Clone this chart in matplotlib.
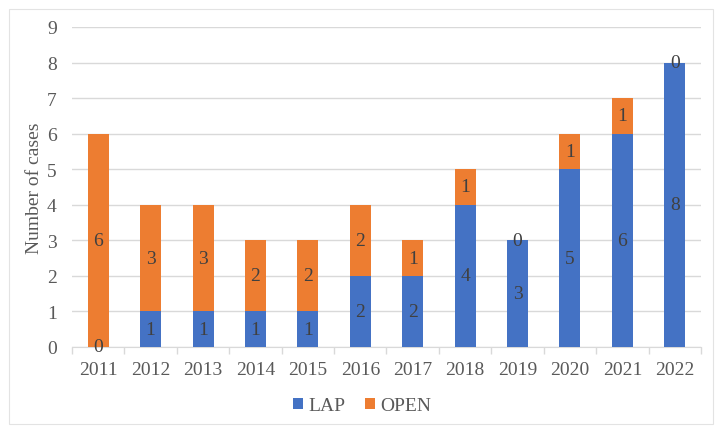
import matplotlib.pyplot as plt
import numpy as np
from matplotlib.patches import Rectangle

years = ["2011", "2012", "2013", "2014", "2015", "2016", "2017", "2018", "2019", "2020", "2021", "2022"]
lap = [0, 1, 1, 1, 1, 2, 2, 4, 3, 5, 6, 8]
open_ = [6, 3, 3, 2, 2, 2, 1, 1, 0, 1, 1, 0]

plt.rcParams['font.family'] = ['Liberation Serif', 'DejaVu Serif']
txt = '#595959'
blue = '#4472C4'
orange = '#ED7D31'
fs = 14

fig = plt.figure(figsize=(7.24, 4.35), dpi=100)
fig.patches.append(Rectangle((9/724, 1-425/435), 704/724, 415/435, transform=fig.transFigure,
                             fill=False, edgecolor='#E3E3E3', linewidth=0.8))
ax = fig.add_axes([72/724, 1-348/435, 629/724, 320/435])

x = np.arange(len(years))
w = 0.4
b1 = ax.bar(x, lap, w, color=blue, label='LAP', zorder=3)
b2 = ax.bar(x, open_, w, bottom=lap, color=orange, label='OPEN', zorder=3)

for i in range(len(years)):
    ax.text(x[i], lap[i]/2, str(lap[i]), ha='center', va='center', fontsize=fs, color='#404040', zorder=4)
    ax.text(x[i], lap[i] + open_[i]/2, str(open_[i]), ha='center', va='center', fontsize=fs, color='#404040', zorder=4)

ax.set_xlim(-0.5, len(years) - 0.5)
ax.set_ylim(0, 9)
ax.set_yticks(range(0, 10))
ax.set_xticks(x)
ax.set_xticklabels(years)
ax.grid(axis='y', color='#D9D9D9', linewidth=1, zorder=0)
for s in ['top', 'right', 'left']:
    ax.spines[s].set_visible(False)
ax.spines['bottom'].set_color('#D9D9D9')
ax.tick_params(axis='y', length=0, labelsize=fs, labelcolor=txt, pad=11)
ax.tick_params(axis='x', length=0, labelsize=fs, labelcolor=txt, pad=10)
ax.set_xticks(np.arange(-0.5, len(years), 1), minor=True)
ax.tick_params(axis='x', which='minor', length=5, color='#D9D9D9', width=1)
ax.set_ylabel('Number of cases', fontsize=fs, color=txt, labelpad=3)

fig.legend(handles=[b1, b2], labels=['LAP', 'OPEN'], loc='center', bbox_to_anchor=(0.5, 1-407/435),
           ncol=2, frameon=False, fontsize=fs, labelcolor=txt, handlelength=0.55, handleheight=0.55,
           handletextpad=0.25, columnspacing=1.0)

fig.savefig('out.png', dpi=100)
